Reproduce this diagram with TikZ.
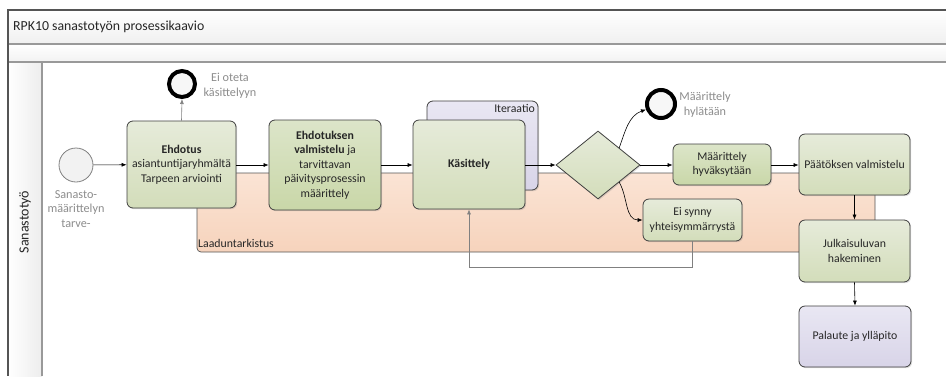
\documentclass[tikz,border=0pt]{standalone}
\usepackage{fontspec}
\setmainfont{Carlito}
\usetikzlibrary{shapes.geometric,arrows.meta,shadows}

\definecolor{boxline}{HTML}{3F3F3F}
\definecolor{greentop}{HTML}{E6EBDA}
\definecolor{greenbot}{HTML}{D3DDBA}
\definecolor{greendtop}{HTML}{DCE5C9}
\definecolor{greendbot}{HTML}{C9D7A8}
\definecolor{orangetop}{HTML}{FBE4D5}
\definecolor{orangebot}{HTML}{F6D3BC}
\definecolor{purptop}{HTML}{E9E7F3}
\definecolor{purpbot}{HTML}{D8D4E8}
\definecolor{labelgray}{HTML}{808080}
\definecolor{evtext}{HTML}{8C8C8C}
\definecolor{textdark}{HTML}{262626}
\definecolor{framegray}{HTML}{555555}
\definecolor{sepgray}{HTML}{999999}

\begin{document}
\begin{tikzpicture}[x=1pt,y=-1pt,
  boxfont/.style={font=\fontsize{11.8}{14.5}\selectfont},
  shade/.style={drop shadow={shadow xshift=1.2pt,shadow yshift=-1.2pt,opacity=0.25}},
  task/.style={draw=boxline, line width=0.8pt, rounded corners=6pt,
    top color=greentop, bottom color=greenbot, align=center,
    text=textdark, inner sep=2pt, boxfont, shade},
  taskdark/.style={task, top color=greendtop, bottom color=greendbot},
  taskpurple/.style={task, top color=purptop, bottom color=purpbot},
  region/.style={draw=framegray, line width=0.7pt, rounded corners=4pt,
    top color=orangetop, bottom color=orangebot, inner sep=0pt},
  startev/.style={circle, draw=labelgray, line width=0.8pt, fill=gray!10,
    minimum size=34pt, inner sep=0pt},
  endev/.style={circle, draw=black, line width=4pt, fill=gray!6,
    minimum size=26pt, inner sep=0pt},
  evlabel/.style={text=evtext, align=center, inner sep=0pt,
    font=\fontsize{12.2}{14.5}\selectfont},
  flow/.style={draw=black, line width=0.6pt, -{Latex[length=5pt,width=4pt]}},
  back/.style={draw=gray, line width=0.6pt, -{Latex[length=5pt,width=4pt]}}
]
\useasboundingbox (0,0) rectangle (946,376);

% pool frame: title band, empty band, lane header column
\fill[top color=white, bottom color=gray!12] (8,10) rectangle (946,44);
\fill[top color=white, bottom color=gray!10] (8,44) rectangle (946,62);
\fill[left color=white, right color=gray!14] (8,62) rectangle (42,376);
\draw[sepgray, line width=1.5pt] (8,44) -- (946,44);
\draw[sepgray, line width=1.5pt] (8,62) -- (946,62);
\draw[sepgray, line width=1.5pt] (42,62) -- (42,376);
\draw[framegray, line width=1.2pt] (946,10) -- (8,10) -- (8,376);
\node[anchor=west, font=\fontsize{13.8}{16}\selectfont, text=textdark, inner sep=0pt] (title) at (13,27) {RPK10 sanastotyön prosessikaavio};
\node[rotate=90, font=\fontsize{14}{16}\selectfont, text=textdark] (lane) at (25,222) {Sanastotyö};

% quality check group and iteration group
\node[region, minimum width=678pt, minimum height=79pt] (qa) at (536,212.5) {};
\node[anchor=south west, boxfont, text=textdark, inner sep=1pt] (qalabel) at (197,249) {Laaduntarkistus};
\node[taskpurple, minimum width=111pt, minimum height=89pt] (iter) at (482.5,145.5) {};
\node[anchor=north east, boxfont, text=textdark, inner sep=1pt] (iterlabel) at (536,103) {Iteraatio};

% events
\node[startev] (start) at (76,165) {};
\node[evlabel] (startlabel) at (76,209) {Sanasto-\\määrittelyn\\tarve-};
\node[endev] (end1) at (182,84) {};
\node[evlabel] (end1label) at (230,86) {Ei oteta\\käsittelyyn};
\node[endev, minimum size=28pt] (end2) at (661,104) {};
\node[evlabel] (end2label) at (705,104.5) {Määrittely\\hylätään};

% tasks
\node[task, minimum width=109pt, minimum height=87pt] (b1) at (181.5,164.5)
  {\textbf{Ehdotus}\\asiantuntijaryhmältä\\Tarpeen arviointi};
\node[taskdark, minimum width=112pt, minimum height=90pt] (b2) at (325,165)
  {\textbf{Ehdotuksen}\\\textbf{valmistelu} ja\\tarvittavan\\päivitysprosessin\\määrittely};
\node[task, minimum width=112pt, minimum height=89pt] (kas) at (469,164.5) {\textbf{Käsittely}};
\node[diamond, draw=boxline, line width=0.8pt, top color=greentop, bottom color=greenbot,
  minimum width=84pt, minimum height=68pt, inner sep=0pt, shade] (gw) at (598,165) {};
\node[taskdark, minimum width=98pt, minimum height=41pt] (hyv) at (722,164.5) {Määrittely\\hyväksytään};
\node[task, minimum width=99pt, minimum height=42pt] (ei) at (692.5,220) {Ei synny\\yhteisymmärrystä};
\node[task, minimum width=111pt, minimum height=61pt] (pv) at (854.5,164.5) {Päätöksen valmistelu};
\node[task, minimum width=111pt, minimum height=62pt] (jh) at (854.5,251) {Julkaisuluvan\\hakeminen};
\node[taskpurple, minimum width=112pt, minimum height=61pt] (pal) at (855,336.5) {Palaute ja ylläpito};

% sequence flows
\draw[flow] (start) -- (b1);
\draw[back] (b1.north) -- (end1.south);
\draw[flow] (b1.east |- 0,165) -- (b2.west |- 0,165);
\draw[flow] (b2.east |- 0,165) -- (kas.west |- 0,165);
\draw[flow] (kas.east |- 0,165) -- (gw.west);
\draw[flow] (gw.east) -- (hyv.west |- gw.east);
\draw[flow] (hyv.east |- 0,165) -- (pv.west |- 0,165);
\draw[flow] (gw.north east) to[out=70, in=200] (end2.200);
\draw[flow] (gw.south east) to[out=-60, in=180] (ei.west);
\draw[back] (ei.south) -- ++(0,26) -| (kas.south);
\draw[flow] (pv.south) -- (jh.north);
\draw[flow] (jh.south) -- (pal.north);
\end{tikzpicture}
\end{document}
